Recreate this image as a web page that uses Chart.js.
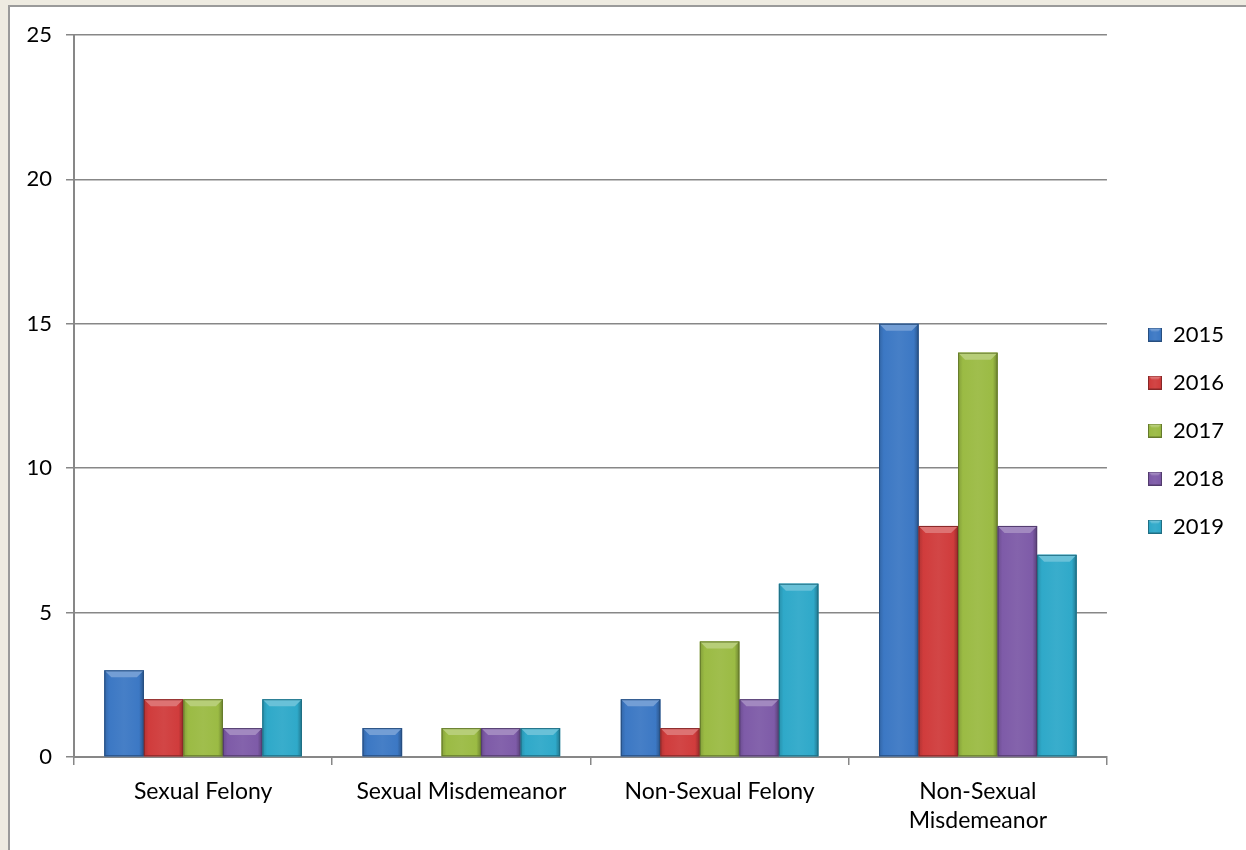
<!DOCTYPE html>
<html>
<head>
<meta charset="utf-8">
<script src="https://cdn.jsdelivr.net/npm/chart.js@4/dist/chart.umd.min.js"></script>
<style>
  html, body { margin: 0; padding: 0; background: #eeebe1; }
  #frame {
    position: absolute; left: 8px; top: 5px; right: 0; bottom: 0;
    background: #fff; border-left: 2px solid #9a9a9a; border-top: 2px solid #9a9a9a;
  }
  #wrap { position: absolute; left: 0; top: 0; width: 1246px; height: 850px; }
</style>
</head>
<body>
<div id="frame"></div>
<div id="wrap"><canvas id="chart" width="1246" height="850"></canvas></div>
<script>
// data
const categories = ['Sexual Felony', 'Sexual Misdemeanor', 'Non-Sexual Felony', ['Non-Sexual', 'Misdemeanor']];
const years = ['2015', '2016', '2017', '2018', '2019'];
const values2015 = [3, 1, 2, 15];
const values2016 = [2, 0, 1, 8];
const values2017 = [2, 1, 4, 14];
const values2018 = [1, 1, 2, 8];
const values2019 = [2, 1, 6, 7];
const yTicks = [0, 5, 10, 15, 20, 25];

const seriesValues = [values2015, values2016, values2017, values2018, values2019];
const baseColors = ['#3c78c4', '#d03c3c', '#9bbb44', '#7e5ba8', '#2fa9c9'];

function shade(hex, amt) {
    const n = parseInt(hex.slice(1), 16);
    let r = (n >> 16) & 255, g = (n >> 8) & 255, b = n & 255;
    const f = (c) => amt >= 0 ? Math.round(c + (255 - c) * amt) : Math.round(c * (1 + amt));
    return `rgb(${f(r)},${f(g)},${f(b)})`;
}

// bevel look shared by bars and legend boxes
function drawBevel(ctx, x0, y0, x1, y1, color) {
    const w = x1 - x0, h = y1 - y0;
    if (w <= 0 || h <= 0) return;
    const b = Math.min(7, w / 4, h / 2);
    const g = ctx.createLinearGradient(x0, 0, x1, 0);
    g.addColorStop(0, shade(color, -0.15));
    g.addColorStop(0.12, color);
    g.addColorStop(0.5, shade(color, 0.05));
    g.addColorStop(0.88, color);
    g.addColorStop(1, shade(color, -0.3));
    ctx.fillStyle = g;
    ctx.fillRect(x0, y0, w, h);
    // top bevel
    ctx.beginPath();
    ctx.moveTo(x0, y0); ctx.lineTo(x1, y0); ctx.lineTo(x1 - b, y0 + b); ctx.lineTo(x0 + b, y0 + b); ctx.closePath();
    ctx.fillStyle = shade(color, 0.28);
    ctx.fill();
    ctx.strokeStyle = shade(color, -0.35);
    ctx.lineWidth = 1;
    ctx.strokeRect(x0 + 0.5, y0 + 0.5, w - 1, h - 1);
}

function legendBox(color) {
    const c = document.createElement('canvas');
    c.width = 14; c.height = 14;
    drawBevel(c.getContext('2d'), 0, 0, 14, 14, color);
    return c;
}

const bevelPlugin = {
    id: 'bevel',
    afterDatasetsDraw(chart) {
        const ctx = chart.ctx;
        ctx.save();
        chart.data.datasets.forEach((ds, i) => {
            const meta = chart.getDatasetMeta(i);
            if (meta.hidden) return;
            meta.data.forEach((bar) => {
                const p = bar.getProps(['x', 'y', 'base', 'width'], true);
                const x0 = p.x - p.width / 2, x1 = p.x + p.width / 2;
                const y0 = Math.min(p.y, p.base), y1 = Math.max(p.y, p.base);
                drawBevel(ctx, x0, y0, x1, y1, baseColors[i]);
            });
        });
        ctx.restore();
    }
};

// legend sits a bit above the canvas middle in the original
const legendShift = {
    id: 'legendShift',
    afterLayout(chart) {
        if (!chart.legend) return;
        chart.legend.top -= 12;
        chart.legend.bottom -= 12;
    }
};

const fontFamily = 'Lato, "Noto Sans", sans-serif';
const gridColor = '#878787';

new Chart(document.getElementById('chart'), {
    type: 'bar',
    data: {
        labels: categories,
        datasets: years.map((y, i) => ({
            label: y,
            data: seriesValues[i],
            backgroundColor: baseColors[i],
            borderWidth: 0,
            categoryPercentage: 0.765,
            barPercentage: 1.0,
            pointStyle: legendBox(baseColors[i])
        }))
    },
    options: {
        responsive: false,
        animation: false,
        layout: { padding: { top: 35, right: 12, left: 0, bottom: 0 } },
        plugins: {
            tooltip: { enabled: false },
            legend: {
                position: 'right',
                labels: {
                    usePointStyle: true,
                    boxWidth: 14,
                    boxHeight: 14,
                    padding: 26,
                    color: '#000',
                    font: { family: fontFamily, size: 22 }
                }
            }
        },
        scales: {
            x: {
                grid: { display: true, drawOnChartArea: false, offset: true, tickLength: 8, color: gridColor, lineWidth: 1.5 },
                border: { display: true, color: gridColor, width: 2 },
                ticks: { color: '#000', padding: 12, maxRotation: 0, font: { family: fontFamily, size: 23, lineHeight: 1.26 } },
                afterFit(scale) { scale.height = 93; }
            },
            y: {
                min: 0,
                max: 25,
                afterBuildTicks(scale) { scale.ticks = yTicks.map(v => ({ value: v })); },
                grid: { color: gridColor, lineWidth: 1.5, tickLength: 8 },
                border: { display: true, color: gridColor, width: 2 },
                ticks: { color: '#000', padding: 14, font: { family: fontFamily, size: 22 } },
                afterFit(scale) { scale.width = 74; }
            },
            // empty right axis: keeps the gap between plot and legend
            gap: {
                position: 'right',
                display: true,
                grid: { display: false },
                border: { display: false },
                ticks: { display: false },
                afterFit(scale) { scale.width = 15; }
            }
        }
    },
    plugins: [bevelPlugin, legendShift]
});
</script>
</body>
</html>
